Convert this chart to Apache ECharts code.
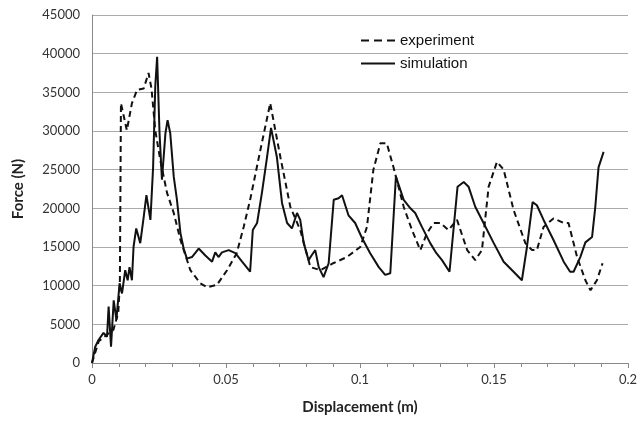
<!DOCTYPE html>
<html>
<head>
<meta charset="utf-8">
<script src="https://cdn.jsdelivr.net/npm/echarts@6/dist/echarts.min.js"></script>
<style>
	html, body { margin: 0; padding: 0; background: #fff; }
	#chart { width: 641px; height: 421px; }
</style>
</head>
<body>
<div id="chart"></div>
<script>
// experiment (dashed), [displacement m, force N]
const experiment = [
	[0, 0], [0.0025, 2800], [0.005, 3500], [0.008, 4300], [0.0098, 6500], [0.0104, 10300],
	[0.0108, 33600], [0.013, 30100], [0.0149, 33600], [0.0168, 35300], [0.0193, 35500],
	[0.0211, 37500], [0.0222, 35500], [0.0236, 30100], [0.0255, 26200], [0.028, 22000],
	[0.0305, 19400], [0.033, 15900], [0.0367, 12000], [0.0404, 10300], [0.0429, 9800],
	[0.0466, 10100], [0.0504, 12000], [0.054, 14200], [0.0566, 17600], [0.059, 21100],
	[0.0628, 27500], [0.0665, 33600], [0.0703, 26600], [0.074, 20200], [0.0777, 17200],
	[0.0815, 12400], [0.0852, 12000], [0.09, 12900], [0.0951, 13700], [0.1001, 15000],
	[0.1026, 17600], [0.105, 25000], [0.1076, 28400], [0.11, 28400], [0.1125, 25300],
	[0.1163, 20200], [0.1194, 17200], [0.1225, 14600], [0.125, 16800], [0.1275, 18100],
	[0.13, 18100], [0.133, 17200], [0.1362, 18500], [0.14, 14600], [0.143, 13300],
	[0.1455, 14600], [0.148, 22800], [0.1511, 26000], [0.1536, 25000], [0.1573, 19800],
	[0.1617, 15500], [0.1642, 14600], [0.166, 14600], [0.1685, 17600], [0.1722, 18700],
	[0.176, 18100], [0.1778, 18100], [0.181, 13700], [0.1841, 10700], [0.186, 9400],
	[0.1884, 10700], [0.1905, 12900]
];

// simulation (solid)
const simulation = [
	[0, 0], [0.0012, 2100], [0.0025, 3000], [0.0043, 3900], [0.0056, 3400], [0.0062, 7300],
	[0.0071, 2100], [0.0081, 8100], [0.0091, 5600], [0.0103, 10300], [0.0112, 9000],
	[0.0124, 12000], [0.0133, 10700], [0.014, 12400], [0.0149, 10700], [0.0155, 15000],
	[0.0165, 17400], [0.018, 15500], [0.0193, 18900], [0.0203, 21700], [0.0218, 18500],
	[0.0228, 25300], [0.0236, 35700], [0.0243, 39600], [0.0252, 29700], [0.0261, 23700],
	[0.0274, 29700], [0.0282, 31400], [0.0292, 29700], [0.0305, 24100], [0.0317, 21100],
	[0.033, 16800], [0.0342, 14800], [0.0354, 13500], [0.0373, 13700], [0.0398, 14800],
	[0.0423, 13900], [0.0448, 13100], [0.046, 14300], [0.0472, 13700], [0.0485, 14300],
	[0.051, 14600], [0.0535, 14200], [0.056, 13100], [0.059, 11800], [0.06, 17200],
	[0.0616, 18100], [0.0634, 22000], [0.0653, 26600], [0.0668, 30400], [0.069, 26600],
	[0.0709, 20700], [0.0728, 18100], [0.0746, 17400], [0.0765, 19400], [0.0777, 18500],
	[0.079, 15500], [0.0808, 13300], [0.0821, 14000], [0.0833, 14600], [0.0846, 12400],
	[0.0864, 11100], [0.0883, 12900], [0.0902, 21100], [0.092, 21300], [0.0933, 21700],
	[0.0957, 19100], [0.0982, 18100], [0.1007, 16200], [0.1038, 14200], [0.107, 12400],
	[0.1094, 11400], [0.1113, 11600], [0.1134, 24100], [0.1163, 21100], [0.1188, 20000],
	[0.1206, 19400], [0.1231, 17600], [0.1262, 15500], [0.1285, 14200], [0.1306, 13300],
	[0.1334, 11800], [0.1364, 22800], [0.1387, 23400], [0.1405, 22800], [0.143, 20200],
	[0.1461, 18100], [0.1499, 15500], [0.1536, 13100], [0.1573, 11800], [0.1604, 10700],
	[0.1623, 15000], [0.1644, 20800], [0.166, 20400], [0.1685, 18500], [0.1722, 15900],
	[0.176, 13100], [0.1784, 11800], [0.1797, 11800], [0.1822, 13700], [0.1841, 15600],
	[0.1866, 16300], [0.1878, 20200], [0.189, 25300], [0.1909, 27300]
];

const seriesNames = ['experiment', 'simulation'];

const labelFont = 'Lato, "Open Sans", sans-serif';

// legend samples drawn as filled paths (dashes / one bar)
const dashIcon = 'path://M0,0h8v2h-8z M13,0h8v2h-8z M26,0h8v2h-8z';
const solidIcon = 'path://M0,0h34v2h-34z';

const option = {
	animation: false,
	backgroundColor: '#fff',
	grid: { left: 92, right: 13, top: 15, bottom: 58 },
	legend: {
		orient: 'vertical',
		left: 356,
		top: 28,
		itemWidth: 34,
		itemHeight: 2,
		itemGap: 8,
		textStyle: { fontFamily: '"Liberation Sans", Arial, sans-serif', fontSize: 15, color: '#111' },
		data: [
			{ name: seriesNames[0], icon: dashIcon, itemStyle: { color: '#111' } },
			{ name: seriesNames[1], icon: solidIcon, itemStyle: { color: '#111' } }
		]
	},
	xAxis: {
		type: 'value',
		min: 0,
		max: 0.2,
		interval: 0.05,
		name: 'Displacement (m)',
		nameLocation: 'middle',
		nameGap: 37,
		nameTextStyle: { fontFamily: labelFont, fontSize: 15, fontWeight: 'bold', color: '#222' },
		axisLine: { lineStyle: { color: '#888', width: 1 } },
		axisTick: { length: 5, lineStyle: { color: '#888' } },
		minorTick: { show: true, splitNumber: 5, length: 4, lineStyle: { color: '#888' } },
		axisLabel: { fontFamily: labelFont, fontSize: 13, color: '#333', margin: 10 },
		splitLine: { show: false }
	},
	yAxis: {
		type: 'value',
		min: 0,
		max: 45000,
		interval: 5000,
		name: 'Force (N)',
		nameLocation: 'middle',
		nameGap: 66,
		nameTextStyle: { fontFamily: labelFont, fontSize: 15, fontWeight: 'bold', color: '#222' },
		axisLine: { show: true, lineStyle: { color: '#888', width: 1 } },
		axisTick: { show: false },
		axisLabel: { fontFamily: labelFont, fontSize: 13, color: '#333', margin: 12, formatter: v => String(v) },
		splitLine: { lineStyle: { color: '#aaa', width: 1 } }
	},
	series: [
		{
			name: seriesNames[0],
			type: 'line',
			data: experiment,
			symbol: 'none',
			lineStyle: { color: '#111', width: 2, type: [6, 4] },
			itemStyle: { color: '#111' }
		},
		{
			name: seriesNames[1],
			type: 'line',
			data: simulation,
			symbol: 'none',
			lineStyle: { color: '#111', width: 2 },
			itemStyle: { color: '#111' }
		}
	]
};

const chart = echarts.init(document.getElementById('chart'));
chart.setOption(option);
</script>
</body>
</html>
